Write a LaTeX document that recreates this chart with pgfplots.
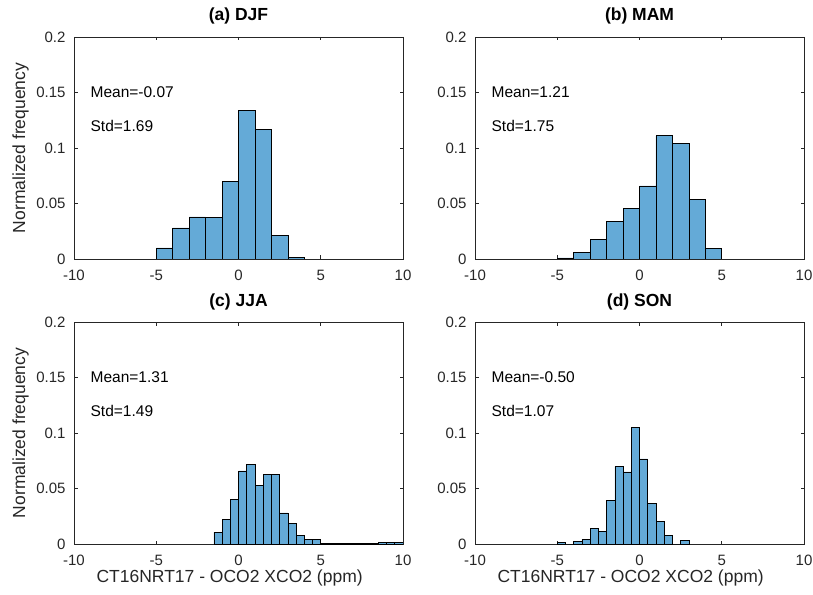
\documentclass[border=0pt]{standalone}
\usepackage{fontspec}
\setmainfont{Liberation Sans}
\usepackage{pgfplots}
\usepackage{pgfplotstable}
\pgfplotsset{compat=1.18}

\definecolor{axisgray}{rgb}{0.15,0.15,0.15}
\definecolor{barblue}{RGB}{100,170,215}

% Histograms of model minus satellite XCO2 by season (bin left edge, frequency)
\pgfplotstableread{
x y
-5 0.010
-4 0.028
-3 0.038
-2 0.0375
-1 0.070
0 0.134
1 0.117
2 0.021
3 0.0012
4 0.0012
}\djf
\pgfplotstableread{
x y
-5 0.0010
-4 0.0057
-3 0.0177
-2 0.0340
-1 0.0453
0 0.0658
1 0.1110
2 0.1045
3 0.0540
4 0.0096
5 0.0096
}\mam
\pgfplotstableread{
x y
-1.5 0.0108
-1.0 0.0225
-0.5 0.0400
0.0 0.0658
0.5 0.0718
1.0 0.0526
1.5 0.0630
2.0 0.0630
2.5 0.0280
3.0 0.0183
3.5 0.0077
4.0 0.0040
4.5 0.0040
5.0 0.0002
5.5 0.0002
6.0 0.0002
6.5 0.0002
7.0 0.0002
7.5 0.0002
8.0 0.0002
8.5 0.0012
9.0 0.0012
9.5 0.0012
10.0 0.0012
}\jja
\pgfplotstableread{
x y
-5.0 0.0015
-4.5 0.0
-4.0 0.0024
-3.5 0.0042
-3.0 0.0138
-2.5 0.0117
-2.0 0.0396
-1.5 0.0697
-1.0 0.0650
-0.5 0.1050
0.0 0.0766
0.5 0.0363
1.0 0.0201
1.5 0.0075
2.0 0.0
2.5 0.0030
3.0 0.0030
}\son

\tikzset{stat/.style={anchor=west, font=\fontsize{15.5}{17}\selectfont, inner sep=0pt, text=black}}

\pgfplotsset{
  panel/.style={
    scale only axis, width=329pt, height=222pt,
    anchor=south west,
    xmin=-10, xmax=10, ymin=0, ymax=0.2,
    xtick={-10,-5,0,5,10}, xticklabels={-10,-5,0,5,10},
    ytick={0,0.05,0.1,0.15,0.2}, yticklabels={0,0.05,0.1,0.15,0.2},
    scaled y ticks=false,
    tick align=inside, xtick pos=both, ytick pos=both,
    major tick length=3.5pt,
    axis line style={axisgray, line width=0.6pt},
    every tick/.style={axisgray, line width=0.6pt},
    tick label style={axisgray, font=\fontsize{15}{17}\selectfont},
    yticklabel style={xshift=-5pt},
    xticklabel style={yshift=-7.5pt},
    title style={at={(axis description cs:0.5,1)}, anchor=base, yshift=10pt,
      font=\fontsize{17.5}{19}\selectfont\bfseries},
    every axis y label/.style={at={(axis description cs:-0.162,0.5)}, rotate=90, anchor=center,
      font=\fontsize{17.5}{19}\selectfont, axisgray},
    every axis x label/.style={at={(axis description cs:0.473,-0.153)}, anchor=center,
      font=\fontsize{17.5}{19}\selectfont, axisgray},
  },
  hist/.style={ybar interval, fill=barblue, draw=black, line width=0.6pt},
}

\begin{document}
\begin{tikzpicture}[x=1pt,y=1pt]
\path[use as bounding box] (0,0) rectangle (813,594);

\begin{axis}[panel, at={(74pt,335pt)}, title={(a) DJF}, ylabel={Normalized frequency}]
  \addplot[hist] table[x=x,y=y] {\djf};
  \node[stat] at (axis cs:-9,0.15) {Mean=-0.07};
  \node[stat] at (axis cs:-9,0.12) {Std=1.69};
\end{axis}

\begin{axis}[panel, at={(475pt,335pt)}, title={(b) MAM}]
  \addplot[hist] table[x=x,y=y] {\mam};
  \node[stat] at (axis cs:-9,0.15) {Mean=1.21};
  \node[stat] at (axis cs:-9,0.12) {Std=1.75};
\end{axis}

\begin{axis}[panel, at={(74pt,50pt)}, title={(c) JJA}, ylabel={Normalized frequency},
  xlabel={CT16NRT17 - OCO2 XCO2 (ppm)}]
  \addplot[hist] table[x=x,y=y] {\jja};
  \node[stat] at (axis cs:-9,0.15) {Mean=1.31};
  \node[stat] at (axis cs:-9,0.12) {Std=1.49};
\end{axis}

\begin{axis}[panel, at={(475pt,50pt)}, title={(d) SON},
  xlabel={CT16NRT17 - OCO2 XCO2 (ppm)}]
  \addplot[hist] table[x=x,y=y] {\son};
  \node[stat] at (axis cs:-9,0.15) {Mean=-0.50};
  \node[stat] at (axis cs:-9,0.12) {Std=1.07};
\end{axis}
\end{tikzpicture}
\end{document}
